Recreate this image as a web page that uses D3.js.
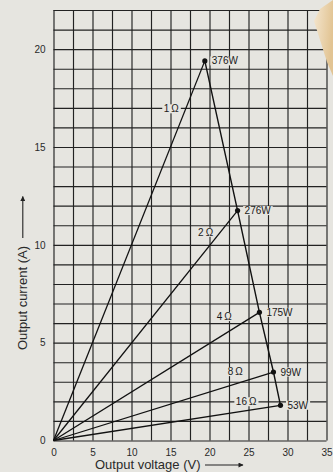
<!DOCTYPE html>
<html>
<head>
<meta charset="utf-8">
<script src="https://cdn.jsdelivr.net/npm/d3@7"></script>
<style>
  html, body { margin: 0; padding: 0; background: #e6e5e0; overflow: hidden; }
  svg { display: block; font-family: "Liberation Sans", Arial, Helvetica, sans-serif; }
</style>
</head>
<body>
<div id="chart"></div>
<script>
// Maximum output point for each load resistance
const loads = ["1\u2009Ω", "2\u2009Ω", "4\u2009Ω", "8\u2009Ω", "16\u2009Ω"];
const voltage = [19.4, 23.6, 26.4, 28.2, 29.1];   // V
const current = [19.4, 11.75, 6.55, 3.5, 1.8];    // A
const powerLabels = ["376W", "276W", "175W", "99W", "53W"];

// Where the load names sit, in chart units (V, A)
const loadLabelV = [15.1, 19.5, 21.9, 23.3, 24.7];
const loadLabelA = [16.95, 10.64, 6.33, 3.52, 1.98];

// Tick labels
const xTicks = [0, 5, 10, 15, 20, 25, 30, 35];
const yTicks = [0, 5, 10, 15, 20];

const W = 333, H = 472;
const margin = { top: 10, right: 6.5, bottom: 31.5, left: 53.5 };
const bg = "#e6e5e0";

const svg = d3.select("#chart")
    .append("svg")
    .attr("width", W)
    .attr("height", H);

svg.append("rect").attr("width", W).attr("height", H).attr("fill", bg);

const x = d3.scaleLinear().domain([0, 35]).range([margin.left, W - margin.right]);
const y = d3.scaleLinear().domain([0, 22]).range([H - margin.bottom, margin.top]);

const points = loads.map((d, i) => ({
    load: d,
    v: voltage[i],
    a: current[i],
    power: powerLabels[i],
    lv: loadLabelV[i],
    la: loadLabelA[i]
}));

// Grid: every 2.5 V and every 1 A
const grid = svg.append("g").attr("class", "grid");
grid.append("g")
    .attr("transform", `translate(0,${y(0)})`)
    .call(d3.axisBottom(x).tickValues(d3.range(0, 35.01, 2.5)).tickSize(-(y(0) - y(22))).tickFormat(""));
grid.append("g")
    .attr("transform", `translate(${x(0)},0)`)
    .call(d3.axisLeft(y).tickValues(d3.range(0, 22.01, 1)).tickSize(-(x(35) - x(0))).tickFormat(""));
grid.selectAll(".domain").remove();
grid.selectAll("line")
    .attr("stroke", "#222")
    .attr("stroke-width", 1.15);

// Tick labels
const xAxis = svg.append("g")
    .attr("transform", `translate(0,${y(0)})`)
    .call(d3.axisBottom(x).tickValues(xTicks).tickSize(0).tickPadding(8));
const yAxis = svg.append("g")
    .attr("transform", `translate(${x(0)},0)`)
    .call(d3.axisLeft(y).tickValues(yTicks).tickSize(0).tickPadding(8));
[xAxis, yAxis].forEach(a => {
    a.select(".domain").remove();
    a.selectAll("text")
        .attr("font-family", "Liberation Sans, Arial, sans-serif")
        .attr("font-size", 10)
        .attr("fill", "#2a2a2a");
});

// Load lines from origin
svg.selectAll(".load-line")
    .data(points)
    .join("line")
    .attr("class", "load-line")
    .attr("x1", x(0))
    .attr("y1", y(0))
    .attr("x2", d => x(d.v))
    .attr("y2", d => y(d.a))
    .attr("stroke", "#111")
    .attr("stroke-width", 1.3);

// Power envelope through the max points
svg.append("path")
    .datum(points)
    .attr("fill", "none")
    .attr("stroke", "#111")
    .attr("stroke-width", 1.4)
    .attr("d", d3.line().x(d => x(d.v)).y(d => y(d.a)));

svg.selectAll(".dot")
    .data(points)
    .join("circle")
    .attr("class", "dot")
    .attr("cx", d => x(d.v))
    .attr("cy", d => y(d.a))
    .attr("r", 2.6)
    .attr("fill", "#111");

// text with a background patch that hides the grid behind it
function boxedLabel(g, tx, ty, str, anchor) {
    const t = g.append("text")
        .attr("x", tx)
        .attr("y", ty)
        .attr("dy", "0.35em")
        .attr("text-anchor", anchor)
        .attr("font-size", 10)
        .attr("fill", "#1a1a1a")
        .text(str);
    const b = t.node().getBBox();
    g.insert("rect", "text")
        .attr("x", b.x - 1.5)
        .attr("y", b.y + 1)
        .attr("width", b.width + 3)
        .attr("height", b.height - 2)
        .attr("fill", bg);
}

const labels = svg.append("g");
points.forEach(d => {
    boxedLabel(labels.append("g"), x(d.v) + 7, y(d.a), d.power, "start");
});
points.forEach(d => {
    boxedLabel(labels.append("g"), x(d.lv), y(d.la), d.load, "middle");
});

// Axis titles with arrows
const defs = svg.append("defs");
defs.append("marker")
    .attr("id", "arrow")
    .attr("viewBox", "0 0 10 10")
    .attr("refX", 9)
    .attr("refY", 5)
    .attr("markerWidth", 7)
    .attr("markerHeight", 5)
    .attr("markerUnits", "userSpaceOnUse")
    .attr("orient", "auto")
    .append("path")
    .attr("d", "M0,0L10,5L0,10Z")
    .attr("fill", "#222");

svg.append("text")
    .attr("x", 95)
    .attr("y", 469)
    .attr("font-size", 13)
    .attr("fill", "#2a2a2a")
    .text("Output voltage (V)");
svg.append("line")
    .attr("x1", 205).attr("y1", 465)
    .attr("x2", 243).attr("y2", 465)
    .attr("stroke", "#222")
    .attr("stroke-width", 1.1)
    .attr("marker-end", "url(#arrow)");

svg.append("text")
    .attr("transform", "translate(26.6,350) rotate(-90)")
    .attr("font-size", 13)
    .attr("fill", "#2a2a2a")
    .text("Output current (A)");
svg.append("line")
    .attr("x1", 22.8).attr("y1", 238)
    .attr("x2", 22.8).attr("y2", 196.5)
    .attr("stroke", "#222")
    .attr("stroke-width", 1.1)
    .attr("marker-end", "url(#arrow)");

// Beige corner shape at the top right of the picture
const grad = defs.append("linearGradient")
    .attr("id", "corner")
    .attr("x1", "0").attr("y1", "0")
    .attr("x2", "1").attr("y2", "0.3");
grad.append("stop").attr("offset", "0%").attr("stop-color", "#f4e6cf");
grad.append("stop").attr("offset", "100%").attr("stop-color", "#e2c493");

svg.append("path")
    .attr("d", "M314,21 L320,9 L333,0 L333,76 L327,62 Z")
    .attr("fill", "url(#corner)");
</script>
</body>
</html>
